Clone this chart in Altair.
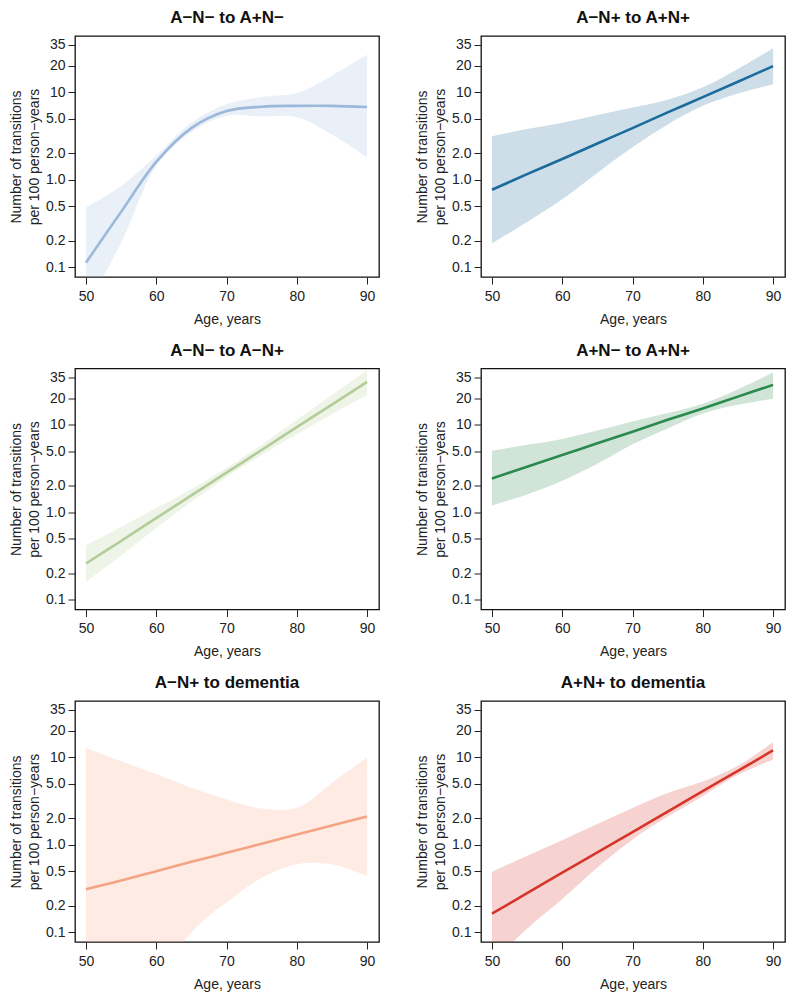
import altair as alt
import pandas as pd

AGES = [50, 55, 60, 65, 70, 75, 80, 85, 90]

TITLES = ["A−N− to A+N−", "A−N+ to A+N+", "A−N− to A−N+",
          "A+N− to A+N+", "A−N+ to dementia", "A+N+ to dementia"]
COLORS = ["#9BB9DB", "#1B6B9C", "#B3CD98", "#2A8A4C", "#F4A484", "#D6352A"]

# panel 1: A−N− to A+N−
p1_fit = [0.113, 0.43, 1.6, 3.9, 6.1, 6.85, 7.0, 7.0, 6.8]
p1_hi = [0.48, 0.85, 1.9, 4.5, 7.3, 8.8, 9.8, 15.5, 27.0]
p1_lo = [0.035, 0.19, 1.45, 3.5, 5.4, 5.3, 5.2, 3.3, 1.8]
# panel 2: A−N+ to A+N+
p2_fit = [0.77, 1.16, 1.73, 2.6, 3.9, 5.9, 8.8, 13.2, 19.9]
p2_hi = [3.14, 3.8, 4.5, 5.5, 6.7, 8.2, 11.4, 18.5, 31.8]
p2_lo = [0.188, 0.33, 0.6, 1.2, 2.35, 4.3, 7.0, 9.7, 12.4]
# panel 3: A−N− to A−N+
p3_fit = [0.26, 0.47, 0.86, 1.56, 2.84, 5.15, 9.4, 17.0, 31.0]
p3_hi = [0.42, 0.68, 1.12, 1.84, 3.2, 5.9, 11.4, 21.9, 42.0]
p3_lo = [0.16, 0.32, 0.66, 1.32, 2.54, 4.5, 7.8, 13.2, 22.0]
# panel 4: A+N− to A+N+
p4_fit = [2.44, 3.32, 4.51, 6.14, 8.35, 11.4, 15.4, 21.0, 28.6]
p4_hi = [5.06, 5.9, 6.9, 8.6, 10.9, 13.6, 17.4, 25.5, 39.6]
p4_lo = [1.2, 1.6, 2.3, 3.6, 6.0, 9.1, 13.5, 16.9, 19.8]
# panel 5: A−N+ to dementia
p5_fit = [0.31, 0.39, 0.5, 0.64, 0.81, 1.03, 1.31, 1.66, 2.11]
p5_hi = [12.8, 9.0, 6.4, 4.5, 3.3, 2.6, 2.65, 5.1, 10.0]
p5_lo = [0.0075, 0.008, 0.025, 0.1, 0.22, 0.42, 0.6, 0.6, 0.44]
# panel 6: A+N+ to dementia
p6_fit = [0.163, 0.28, 0.48, 0.82, 1.4, 2.39, 4.1, 7.0, 12.0]
p6_hi = [0.49, 0.75, 1.13, 1.73, 2.63, 3.9, 5.3, 8.0, 14.9]
p6_lo = [0.045, 0.11, 0.24, 0.55, 1.15, 2.1, 3.6, 6.3, 9.4]

FITS = [p1_fit, p2_fit, p3_fit, p4_fit, p5_fit, p6_fit]
HIS = [p1_hi, p2_hi, p3_hi, p4_hi, p5_hi, p6_hi]
LOS = [p1_lo, p2_lo, p3_lo, p4_lo, p5_lo, p6_lo]

Y_TICKS = [0.1, 0.2, 0.5, 1, 2, 5, 10, 20, 35]
X_TICKS = [50, 60, 70, 80, 90]
FONT = "Liberation Sans"

xs = alt.Scale(domain=[48.44, 91.7], nice=False, zero=False)
ys = alt.Scale(type="log", domain=[0.0775, 44], nice=False)


def panel(i):
    df = pd.DataFrame({"age": AGES, "fit": FITS[i], "lo": LOS[i], "hi": HIS[i]})
    base = alt.Chart(df)
    x = alt.X("age:Q", scale=xs,
              axis=alt.Axis(values=X_TICKS, title="Age, years", format="d"))
    y = alt.Y("fit:Q", scale=ys,
              axis=alt.Axis(values=Y_TICKS,
                            title=["Number of transitions", "per 100 person−years"],
                            labelExpr="datum.value >= 10 ? format(datum.value, 'd') : format(datum.value, '.1f')"))
    band = base.mark_area(color=COLORS[i], opacity=0.22, clip=True,
                          interpolate="catmull-rom").encode(
        x=x, y=alt.Y("lo:Q", scale=ys), y2="hi:Q")
    line = base.mark_line(color=COLORS[i], strokeWidth=2.6, clip=True,
                          interpolate="catmull-rom").encode(x=x, y=y)
    return alt.layer(band, line).properties(
        width=304, height=241, title=TITLES[i])


rows = [alt.hconcat(panel(2 * r), panel(2 * r + 1), spacing=34) for r in range(3)]
chart = alt.vconcat(*rows, spacing=13.5).properties(padding=0).configure_view(
    stroke="#111", strokeWidth=1.3
).configure_axis(
    grid=False, domain=False, tickColor="#222", tickSize=7, tickWidth=1,
    labelFont=FONT, labelFontSize=14, labelColor="#222", labelPadding=3,
    titleFont=FONT, titleFontSize=14, titleColor="#222", titleFontWeight="normal",
    titleLineHeight=18
).configure_axisY(titlePadding=4).configure_axisX(titlePadding=9, labelPadding=5).configure_title(
    font=FONT, fontSize=17, fontWeight="bold", color="#111", anchor="middle",
    offset=9, baseline="alphabetic"
)

chart.save("out.html", embed_options={"renderer": "svg", "actions": False})
